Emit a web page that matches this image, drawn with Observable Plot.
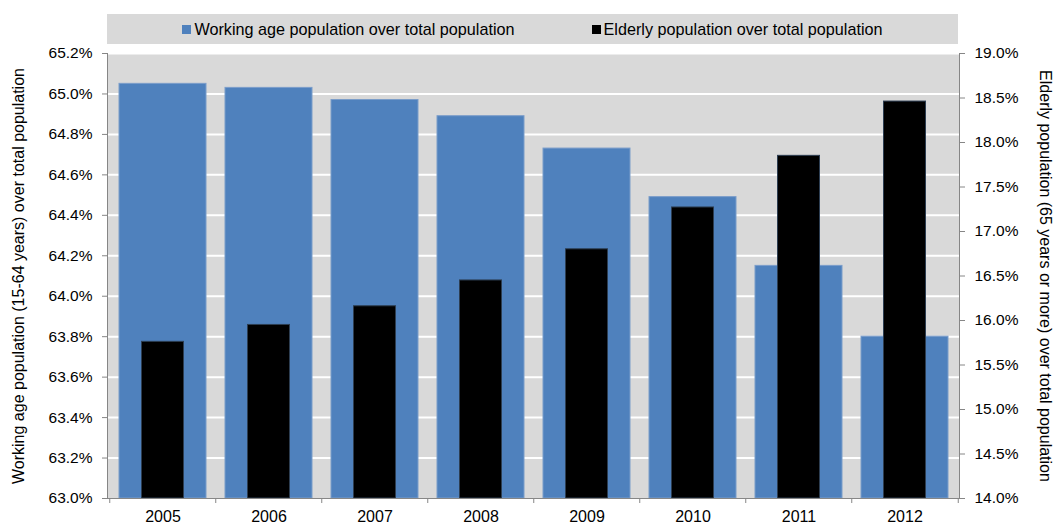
<!DOCTYPE html>
<html>
<head>
<meta charset="utf-8">
<script src="https://cdn.jsdelivr.net/npm/d3@7"></script>
<script src="https://cdn.jsdelivr.net/npm/@observablehq/plot@0.6"></script>
<style>
  html, body { margin: 0; padding: 0; background: #fff; overflow: hidden; }
  body { width: 1056px; height: 525px; font-family: "Liberation Sans", Arial, sans-serif; }
  #legend {
    margin: 14px 0 0 107px; width: 851px; height: 30px; background: #d9d9d9;
    display: flex; justify-content: center; align-items: center; gap: 77px;
    font-size: 16.2px; color: #000;
  }
  #legend .item { display: flex; align-items: center; gap: 3px; }
  #legend .sw { width: 9px; height: 9px; display: inline-block; }
  svg { display: block; }
</style>
</head>
<body>
<div id="legend"></div>
<div id="chart"></div>
<script>
// Years on the category axis
const years = ["2005", "2006", "2007", "2008", "2009", "2010", "2011", "2012"];
// Share of population aged 15-64 (%), left axis
const workingAge = [65.05, 65.03, 64.97, 64.89, 64.73, 64.49, 64.15, 63.80];
// Share of population aged 65+ (%), right axis
const elderly = [15.76, 15.95, 16.16, 16.45, 16.80, 17.27, 17.85, 18.46];
// Axis ticks
const leftTicks = [63.0, 63.2, 63.4, 63.6, 63.8, 64.0, 64.2, 64.4, 64.6, 64.8, 65.0, 65.2];
const rightTicks = [14.0, 14.5, 15.0, 15.5, 16.0, 16.5, 17.0, 17.5, 18.0, 18.5, 19.0];

const seriesNames = ["Working age population over total population", "Elderly population over total population"];
const seriesColors = ["#4f81bd", "#000000"];

const leftTitle = "Working age population (15-64 years) over total population";
const rightTitle = "Elderly population (65 years or more) over total population";

// Right-axis values are mapped onto the left-axis scale
const L0 = leftTicks[0], L1 = leftTicks[leftTicks.length - 1];
const R0 = rightTicks[0], R1 = rightTicks[rightTicks.length - 1];
const toLeft = r => L0 + (r - R0) * (L1 - L0) / (R1 - R0);
const fromLeft = v => R0 + (v - L0) * (R1 - R0) / (L1 - L0);

const data = years.map((year, i) => ({year, work: workingAge[i], elderly: elderly[i]}));

// Legend
const legend = document.getElementById("legend");
seriesNames.forEach((name, i) => {
  const item = document.createElement("div");
  item.className = "item";
  const sw = document.createElement("span");
  sw.className = "sw";
  sw.style.background = seriesColors[i];
  const label = document.createElement("span");
  label.textContent = name;
  item.append(sw, label);
  legend.append(item);
});

const width = 1056, marginLeft = 107, marginRight = 97;
const step = (width - marginLeft - marginRight) / years.length;
const axisColor = "#868686";

const chart = Plot.plot({
  width,
  height: 481,
  marginTop: 9,
  marginBottom: 27,
  marginLeft,
  marginRight,
  style: {fontFamily: "'Liberation Sans', Arial, sans-serif", fontSize: "15.5px", color: "#000", background: "#fff"},
  x: {domain: years, paddingInner: 0.18, paddingOuter: 0.09, axis: null},
  y: {domain: [L0, L1], axis: null},
  marks: [
    Plot.frame({fill: "#d9d9d9"}),
    Plot.ruleY(leftTicks.slice(1), {stroke: "#ffffff", strokeWidth: 2}),
    Plot.barY(data, {x: "year", y1: L0, y2: "work", fill: seriesColors[0], stroke: "#7b9dca", strokeWidth: 1}),
    Plot.barY(data, {x: "year", y1: L0, y2: d => toLeft(d.elderly), fill: seriesColors[1], stroke: "#2d3e52", strokeWidth: 1, insetLeft: 22.5, insetRight: 22.5}),
    // Axis lines
    Plot.frame({anchor: "left", stroke: axisColor}),
    Plot.frame({anchor: "right", stroke: axisColor}),
    Plot.frame({anchor: "bottom", stroke: axisColor}),
    // Left axis
    Plot.axisY({ticks: leftTicks, tickSize: 5, text: null, label: null, stroke: axisColor}),
    Plot.axisY({ticks: leftTicks, tickSize: 0, tickPadding: 15, label: null, tickFormat: d => d.toFixed(1) + "%"}),
    // Right axis
    Plot.axisY({anchor: "right", ticks: rightTicks.map(toLeft), tickSize: 5, text: null, label: null, stroke: axisColor}),
    Plot.axisY({anchor: "right", ticks: rightTicks.map(toLeft), tickSize: 0, tickPadding: 15, label: null, tickFormat: v => fromLeft(v).toFixed(1) + "%"}),
    // Category axis: tick marks at band boundaries, labels at centers
    Plot.axisX({tickSize: 5, text: null, label: null, stroke: axisColor, dx: -step / 2}),
    Plot.axisX({ticks: years.slice(-1), tickSize: 5, text: null, label: null, stroke: axisColor, dx: step / 2}),
    Plot.axisX({tickSize: 0, tickPadding: 12, label: null, fontSize: 16}),
    // Axis titles
    Plot.text([leftTitle], {text: d => d, frameAnchor: "left", textAnchor: "middle", dx: -89, rotate: -90, fontSize: 16}),
    Plot.text([rightTitle], {text: d => d, frameAnchor: "right", textAnchor: "middle", dx: 86, rotate: 90, fontSize: 16})
  ]
});
document.getElementById("chart").append(chart);
</script>
</body>
</html>
